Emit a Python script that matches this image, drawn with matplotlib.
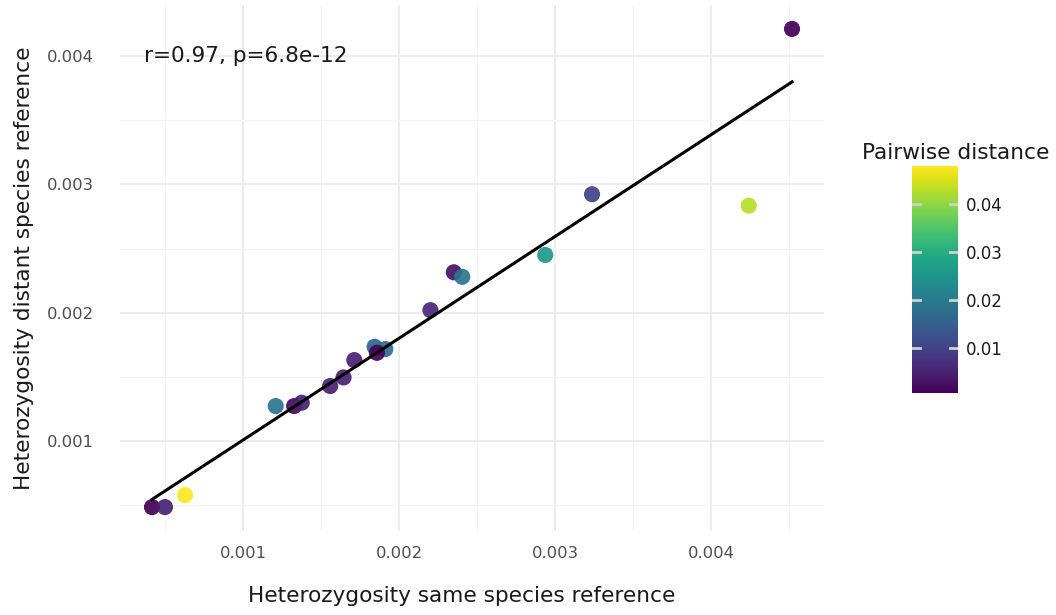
import numpy as np
import matplotlib
matplotlib.use("Agg")
import matplotlib.pyplot as plt
from matplotlib.ticker import MultipleLocator

# heterozygosity estimates per sample, mapped to the same vs a distant reference
het_same = [0.000415, 0.000498, 0.000627, 0.001208, 0.001326, 0.001375,
            0.001557, 0.001643, 0.001712, 0.001842, 0.001911, 0.001857,
            0.002200, 0.002350, 0.002404, 0.002936, 0.003236, 0.004241,
            0.004518]
het_distant = [0.000486, 0.000486, 0.000579, 0.001273, 0.001273, 0.001299,
               0.001429, 0.001496, 0.001631, 0.001735, 0.001717, 0.001688,
               0.002020, 0.002315, 0.002280, 0.002450, 0.002923, 0.002834,
               0.004211]
pair_dist = [0.0007, 0.005, 0.048, 0.019, 0.002, 0.005,
             0.005, 0.005, 0.005, 0.016, 0.017, 0.001,
             0.006, 0.003, 0.019, 0.026, 0.010, 0.043,
             0.001]
cor_label = "r=0.97, p=6.8e-12"
cbar_ticks = [0.01, 0.02, 0.03, 0.04]

x = np.array(het_same)
y = np.array(het_distant)

fig = plt.figure(figsize=(10.56, 6.15), dpi=100)
ax = fig.add_axes([120 / 1056, 1 - 531 / 615, 704 / 1056, 526 / 615])

sc = ax.scatter(x, y, c=pair_dist, cmap="viridis", s=135, alpha=0.92,
                linewidths=0, zorder=3)

# linear fit over the data range
slope, icept = np.polyfit(x, y, 1)
xs = np.array([x.min(), x.max()])
ax.plot(xs, slope * xs + icept, color="black", lw=2.2, zorder=4)

ax.margins(0.05)
ax.xaxis.set_major_locator(MultipleLocator(0.001))
ax.xaxis.set_minor_locator(MultipleLocator(0.0005))
ax.yaxis.set_major_locator(MultipleLocator(0.001))
ax.yaxis.set_minor_locator(MultipleLocator(0.0005))
ax.xaxis.set_major_formatter(lambda v, p: f"{v:.3f}")
ax.yaxis.set_major_formatter(lambda v, p: f"{v:.3f}")

ax.grid(which="major", color="#EBEBEB", lw=1.3, zorder=0)
ax.grid(which="minor", color="#F3F3F3", lw=0.8, zorder=0)
ax.set_axisbelow(True)
for s in ax.spines.values():
    s.set_visible(False)
ax.tick_params(which="both", length=0, labelsize=11.8, labelcolor="#4D4D4D")
ax.tick_params(axis="x", pad=11)
ax.tick_params(axis="y", pad=19)

ax.set_xlabel("Heterozygosity same species reference", fontsize=15.6,
              color="#1A1A1A")
ax.xaxis.set_label_coords(0.486, -0.105)
ax.set_ylabel("Heterozygosity distant species reference", fontsize=15.6,
              color="#1A1A1A", labelpad=9)

ax.text(0.000362, 0.004, cor_label, fontsize=15.6, color="#1A1A1A",
        ha="left", va="center")

# colour bar legend
cax = fig.add_axes([912 / 1056, 1 - 393 / 615, 46 / 1056, 227 / 615])
cb = fig.colorbar(sc, cax=cax, ticks=cbar_ticks)
cb.solids.set_alpha(1)
cb.outline.set_visible(False)
cax.tick_params(length=0, labelsize=12, labelcolor="#1A1A1A", pad=6)
cax.set_yticklabels([f"{t:.2f}" for t in cbar_ticks])
for t in cbar_ticks:
    cax.plot([0, 0.18], [t, t], color="#D0D0D0", lw=2, transform=cax.get_yaxis_transform())
    cax.plot([0.82, 1.0], [t, t], color="#D0D0D0", lw=2, transform=cax.get_yaxis_transform())
fig.text(862 / 1056, 1 - 153 / 615, "Pairwise distance", fontsize=15.6,
         color="#1A1A1A", ha="left", va="center")

fig.savefig("out.png", dpi=100, facecolor="white")
